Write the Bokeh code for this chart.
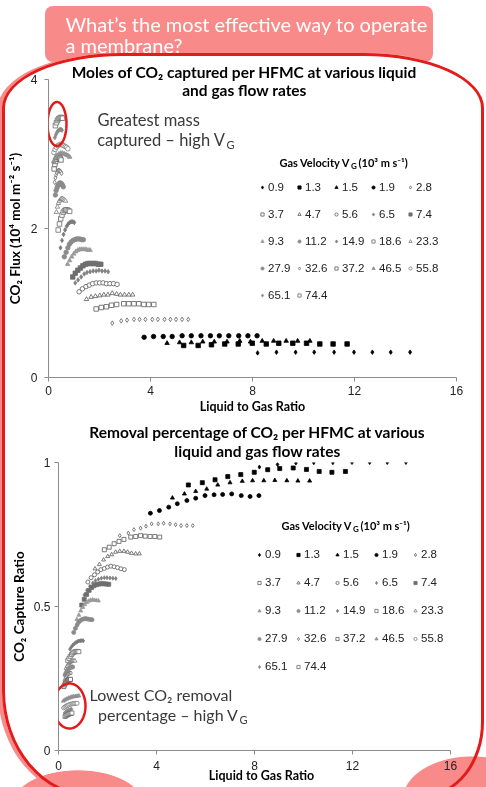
import numpy as np
from bokeh.plotting import figure
from bokeh.models import (Legend, LegendItem, Label, PolyAnnotation, FixedTicker,
                          GlobalInlineStyleSheet)
from bokeh.layouts import column, row
from bokeh.embed import file_html
from bokeh.resources import INLINE

# ---------------- data ----------------
GAS_VELOCITY = ["0.9", "1.3", "1.5", "1.9", "2.8", "3.7", "4.7", "5.6", "6.5", "7.4",
                "9.3", "11.2", "14.9", "18.6", "23.3", "27.9", "32.6", "37.2", "46.5",
                "55.8", "65.1", "74.4"]

LG_0_9 = [8.2, 8.94, 9.69, 10.42, 11.2, 11.98, 12.7, 13.42, 14.18]
FLUX_0_9 = [0.33, 0.34, 0.34, 0.34, 0.34, 0.34, 0.34, 0.34, 0.34]
CAPTURE_0_9 = [0.984, 0.993, 0.998, 0.999, 0.999, 1.0, 1.0, 1.0, 1.0]

LG_1_3 = [5.3, 5.87, 6.39, 6.91, 7.44, 7.99, 8.54, 9.03, 9.58, 10.12, 10.64, 11.16, 11.71]
FLUX_1_3 = [0.43, 0.43, 0.44, 0.45, 0.45, 0.46, 0.45, 0.46, 0.46, 0.46, 0.45, 0.45, 0.45]
CAPTURE_1_3 = [0.922, 0.93, 0.94, 0.951, 0.958, 0.966, 0.975, 0.979, 0.981, 0.976, 0.969, 0.966, 0.969]

LG_1_5 = [4.65, 5.14, 5.6, 6.05, 6.5, 7.0, 7.5, 7.92, 8.38, 8.83, 9.32, 9.77, 10.25]
FLUX_1_5 = [0.46, 0.47, 0.47, 0.48, 0.48, 0.48, 0.49, 0.48, 0.49, 0.49, 0.49, 0.49, 0.49]
CAPTURE_1_5 = [0.877, 0.891, 0.9, 0.908, 0.922, 0.93, 0.935, 0.937, 0.937, 0.938, 0.937, 0.936, 0.936]

LG_1_9 = [3.75, 4.12, 4.5, 4.85, 5.24, 5.6, 5.98, 6.35, 6.7, 7.07, 7.46, 7.82, 8.18]
FLUX_1_9 = [0.54, 0.55, 0.55, 0.55, 0.56, 0.56, 0.56, 0.56, 0.56, 0.56, 0.56, 0.56, 0.56]
CAPTURE_1_9 = [0.824, 0.833, 0.845, 0.857, 0.868, 0.876, 0.885, 0.888, 0.889, 0.891, 0.885, 0.882, 0.885]

LG_2_8 = [2.5, 2.85, 3.08, 3.35, 3.57, 3.8, 4.07, 4.29, 4.55, 4.78, 5.0, 5.24, 5.48]
FLUX_2_8 = [0.73, 0.76, 0.77, 0.78, 0.78, 0.78, 0.78, 0.78, 0.78, 0.78, 0.78, 0.78, 0.78]
CAPTURE_2_8 = [0.746, 0.755, 0.767, 0.772, 0.779, 0.787, 0.787, 0.789, 0.787, 0.784, 0.781, 0.781, 0.781]

LG_3_7 = [1.87, 2.07, 2.27, 2.47, 2.67, 2.95, 3.15, 3.35, 3.54, 3.74, 3.93, 4.13]
FLUX_3_7 = [0.92, 0.94, 0.95, 0.97, 0.98, 0.99, 0.99, 0.99, 0.99, 0.98, 0.98, 0.98]
CAPTURE_3_7 = [0.697, 0.706, 0.718, 0.726, 0.733, 0.741, 0.743, 0.746, 0.744, 0.743, 0.743, 0.741]

LG_4_7 = [1.49, 1.67, 1.84, 2.01, 2.17, 2.33, 2.5, 2.67, 2.82, 2.98, 3.15, 3.3]
FLUX_4_7 = [1.05, 1.08, 1.09, 1.1, 1.11, 1.11, 1.13, 1.12, 1.11, 1.11, 1.11, 1.11]
CAPTURE_4_7 = [0.631, 0.646, 0.662, 0.674, 0.68, 0.689, 0.692, 0.692, 0.689, 0.685, 0.683, 0.683]

LG_5_6 = [1.2, 1.33, 1.47, 1.6, 1.73, 1.87, 2.0, 2.14, 2.27, 2.41, 2.55, 2.69]
FLUX_5_6 = [1.15, 1.19, 1.22, 1.24, 1.26, 1.27, 1.27, 1.27, 1.26, 1.26, 1.26, 1.25]
CAPTURE_5_6 = [0.585, 0.6, 0.61, 0.62, 0.628, 0.632, 0.637, 0.64, 0.638, 0.635, 0.631, 0.628]

LG_6_5 = [1.05, 1.16, 1.28, 1.4, 1.51, 1.63, 1.75, 1.87, 1.98, 2.1, 2.22, 2.34]
FLUX_6_5 = [1.27, 1.31, 1.35, 1.39, 1.41, 1.42, 1.43, 1.43, 1.44, 1.43, 1.43, 1.42]
CAPTURE_6_5 = [0.54, 0.556, 0.57, 0.582, 0.59, 0.595, 0.598, 0.6, 0.6, 0.599, 0.598, 0.597]

LG_7_4 = [0.95, 1.05, 1.15, 1.25, 1.35, 1.45, 1.55, 1.65, 1.75, 1.85, 1.95, 2.05]
FLUX_7_4 = [1.35, 1.4, 1.44, 1.47, 1.5, 1.52, 1.53, 1.53, 1.53, 1.53, 1.52, 1.52]
CAPTURE_7_4 = [0.505, 0.525, 0.542, 0.556, 0.566, 0.572, 0.576, 0.578, 0.579, 0.579, 0.578, 0.577]

LG_9_3 = [0.75, 0.83, 0.91, 0.99, 1.07, 1.15, 1.23, 1.31, 1.39, 1.47, 1.55, 1.63]
FLUX_9_3 = [1.52, 1.57, 1.62, 1.66, 1.69, 1.71, 1.72, 1.72, 1.72, 1.72, 1.71, 1.71]
CAPTURE_9_3 = [0.455, 0.47, 0.485, 0.497, 0.507, 0.514, 0.519, 0.522, 0.523, 0.522, 0.521, 0.52]

LG_11_2 = [0.62, 0.69, 0.76, 0.82, 0.89, 0.96, 1.03, 1.1, 1.16, 1.23, 1.3, 1.37]
FLUX_11_2 = [1.62, 1.68, 1.74, 1.79, 1.82, 1.84, 1.85, 1.86, 1.86, 1.86, 1.85, 1.85]
CAPTURE_11_2 = [0.41, 0.424, 0.436, 0.445, 0.451, 0.455, 0.457, 0.458, 0.457, 0.456, 0.455, 0.454]

LG_14_9 = [0.47, 0.53, 0.59, 0.65, 0.71, 0.77, 0.83, 0.89, 0.95, 1.01]
FLUX_14_9 = [1.74, 1.84, 1.92, 1.98, 2.03, 2.06, 2.08, 2.09, 2.09, 2.08]
CAPTURE_14_9 = [0.352, 0.36, 0.366, 0.371, 0.375, 0.378, 0.38, 0.381, 0.382, 0.381]

LG_18_6 = [0.38, 0.43, 0.48, 0.53, 0.58, 0.63, 0.68, 0.73, 0.78, 0.83]
FLUX_18_6 = [1.98, 2.06, 2.13, 2.18, 2.22, 2.24, 2.25, 2.25, 2.24, 2.23]
CAPTURE_18_6 = [0.312, 0.32, 0.327, 0.333, 0.338, 0.341, 0.343, 0.344, 0.344, 0.343]

LG_23_3 = [0.31, 0.35, 0.39, 0.43, 0.47, 0.51, 0.55, 0.59, 0.63, 0.67]
FLUX_23_3 = [2.22, 2.29, 2.34, 2.37, 2.39, 2.4, 2.4, 2.39, 2.38, 2.37]
CAPTURE_23_3 = [0.285, 0.292, 0.298, 0.303, 0.306, 0.309, 0.311, 0.312, 0.312, 0.311]

LG_27_9 = [0.27, 0.3, 0.34, 0.37, 0.41, 0.44, 0.48, 0.51, 0.55, 0.58]
FLUX_27_9 = [2.45, 2.51, 2.55, 2.58, 2.6, 2.61, 2.61, 2.6, 2.58, 2.56]
CAPTURE_27_9 = [0.262, 0.268, 0.274, 0.279, 0.283, 0.286, 0.288, 0.289, 0.29, 0.29]

LG_32_6 = [0.24, 0.27, 0.3, 0.33, 0.36, 0.39, 0.42, 0.45, 0.48, 0.51]
FLUX_32_6 = [2.62, 2.68, 2.72, 2.75, 2.77, 2.78, 2.78, 2.77, 2.76, 2.74]
CAPTURE_32_6 = [0.242, 0.248, 0.254, 0.258, 0.262, 0.265, 0.267, 0.268, 0.269, 0.269]

LG_37_2 = [0.22, 0.25, 0.28, 0.31, 0.34, 0.37, 0.4, 0.43, 0.46, 0.49]
FLUX_37_2 = [2.8, 2.86, 2.9, 2.93, 2.95, 2.96, 2.96, 2.95, 2.94, 2.92]
CAPTURE_37_2 = [0.222, 0.228, 0.233, 0.237, 0.24, 0.243, 0.245, 0.246, 0.247, 0.247]

LG_46_5 = [0.2, 0.27, 0.34, 0.41, 0.48, 0.55, 0.62, 0.69, 0.76, 0.83]
FLUX_46_5 = [2.9, 2.95, 2.98, 3.0, 3.01, 3.01, 3.0, 2.99, 2.98, 2.96]
CAPTURE_46_5 = [0.172, 0.176, 0.179, 0.182, 0.184, 0.186, 0.187, 0.188, 0.189, 0.19]

LG_55_8 = [0.21, 0.26, 0.31, 0.36, 0.41, 0.46, 0.51, 0.56, 0.61, 0.66, 0.71, 0.76]
FLUX_55_8 = [3.02, 3.06, 3.09, 3.11, 3.12, 3.13, 3.13, 3.12, 3.11, 3.1, 3.09, 3.07]
CAPTURE_55_8 = [0.148, 0.151, 0.154, 0.156, 0.158, 0.16, 0.161, 0.162, 0.163, 0.163, 0.164, 0.164]

LG_65_1 = [0.25, 0.29, 0.33, 0.37, 0.41, 0.45, 0.49, 0.53]
FLUX_65_1 = [3.22, 3.26, 3.29, 3.31, 3.32, 3.33, 3.33, 3.32]
CAPTURE_65_1 = [0.13, 0.133, 0.136, 0.138, 0.14, 0.141, 0.142, 0.143]

LG_74_4 = [0.27, 0.31, 0.35, 0.39, 0.43, 0.47, 0.51, 0.55]
FLUX_74_4 = [3.38, 3.42, 3.45, 3.47, 3.48, 3.49, 3.49, 3.48]
CAPTURE_74_4 = [0.118, 0.121, 0.123, 0.125, 0.127, 0.128, 0.129, 0.13]

X_TICKS = [0, 4, 8, 12, 16]
FLUX_TICKS = [0, 2, 4]
CAPTURE_TICKS = [0, 0.5, 1]

# table built from the named lists
SERIES = [
    (LG_0_9, FLUX_0_9, CAPTURE_0_9), (LG_1_3, FLUX_1_3, CAPTURE_1_3),
    (LG_1_5, FLUX_1_5, CAPTURE_1_5), (LG_1_9, FLUX_1_9, CAPTURE_1_9),
    (LG_2_8, FLUX_2_8, CAPTURE_2_8), (LG_3_7, FLUX_3_7, CAPTURE_3_7),
    (LG_4_7, FLUX_4_7, CAPTURE_4_7), (LG_5_6, FLUX_5_6, CAPTURE_5_6),
    (LG_6_5, FLUX_6_5, CAPTURE_6_5), (LG_7_4, FLUX_7_4, CAPTURE_7_4),
    (LG_9_3, FLUX_9_3, CAPTURE_9_3), (LG_11_2, FLUX_11_2, CAPTURE_11_2),
    (LG_14_9, FLUX_14_9, CAPTURE_14_9), (LG_18_6, FLUX_18_6, CAPTURE_18_6),
    (LG_23_3, FLUX_23_3, CAPTURE_23_3), (LG_27_9, FLUX_27_9, CAPTURE_27_9),
    (LG_32_6, FLUX_32_6, CAPTURE_32_6), (LG_37_2, FLUX_37_2, CAPTURE_37_2),
    (LG_46_5, FLUX_46_5, CAPTURE_46_5), (LG_55_8, FLUX_55_8, CAPTURE_55_8),
    (LG_65_1, FLUX_65_1, CAPTURE_65_1), (LG_74_4, FLUX_74_4, CAPTURE_74_4),
]

# ---------------- styles ----------------
MARKERS = ["diamond", "square", "triangle", "circle", "diamond", "square", "triangle", "circle",
           "diamond", "square", "triangle", "circle", "diamond", "square", "triangle", "circle",
           "diamond", "square", "triangle", "circle", "diamond", "square"]
FILLS = ["#000000", "#000000", "#000000", "#000000", "#ffffff", "#ffffff", "#ffffff", "#ffffff",
         "#808080", "#6e6e6e", "#9a9a9a", "#8a8a8a", "#7a7a7a", "#ffffff", "#ffffff", "#8c8c8c",
         "#ffffff", "#ffffff", "#9a9a9a", "#ffffff", "#8a8a8a", "#ffffff"]
LINES = ["#000000", "#000000", "#000000", "#000000", "#5a5a5a", "#5a5a5a", "#5a5a5a", "#5a5a5a",
         "#808080", "#6e6e6e", "#9a9a9a", "#8a8a8a", "#7a7a7a", "#6a6a6a", "#7a7a7a", "#8c8c8c",
         "#6a6a6a", "#5a5a5a", "#8a8a8a", "#7a7a7a", "#8a8a8a", "#6a6a6a"]

W = 486
H1, H2 = 418, 369
TOP1, TOP2 = 0, 418          # page y of each figure's top
RED = "#e41b1b"
PINK = "#f98a8a"
AX = "#8c8c8c"

# page decoration (pink header box, red rounded frame, pink corner blobs), drawn by CSS
RADII = "120px 120px 60px 90px / 55px 55px 75px 106px"
PAGE_CSS = f"""
html::before {{ content: ""; position: fixed; z-index: -1; left: 45px; top: 6px;
  width: 388px; height: 56px; border-radius: 8px; background: {PINK}; }}
body::before {{ content: ""; position: fixed; z-index: -1; left: 2px; top: 53px;
  width: 482px; height: 744px; box-sizing: border-box; border-radius: {RADII};
  background: #ffffff; box-shadow: -4px 0 0 0 {PINK}; }}
body::after {{ content: ""; position: fixed; z-index: -1; left: 0px; top: 0px;
  width: 486px; height: 787px;
  background: radial-gradient(66px 35px at 78px 805px, {PINK} 98%, rgba(0,0,0,0) 100%),
              radial-gradient(70px 44px at 472px 800px, {PINK} 98%, rgba(0,0,0,0) 100%); }}
html::after {{ content: ""; position: fixed; z-index: -1; left: 2px; top: 53px;
  width: 482px; height: 744px; box-sizing: border-box; border: 3px solid {RED};
  border-radius: {RADII}; }}
"""


def ring(cx, cy, rx, ry, n=60):
    t = np.linspace(0, 2 * np.pi, n)
    return list(cx + rx * np.cos(t)), list(cy + ry * np.sin(t))


def add_ring(p, shape, top):
    p.add_layout(PolyAnnotation(xs=shape[0], ys=[y - top for y in shape[1]],
                                xs_units="canvas", ys_units="canvas",
                                fill_alpha=0, line_color=RED, line_alpha=1.0, line_width=2.5))


def text(p, x, y, top, s, size, style="normal", color="#000000", align="left",
         font="Lato", place="center"):
    p.add_layout(Label(x=x, y=y - top, x_units="canvas", y_units="canvas", text=s,
                       text_font=font, text_font_size=size, text_font_style=style,
                       text_color=color, text_align=align, text_baseline="middle"), place)


def make_fig(height, x_end, y_end, yticks, borders, xlab, ylab, xstd, xlstd, ystd, ylstd):
    left, right, top, bottom = borders
    p = figure(width=W, height=height, x_range=(0, x_end), y_range=(0, y_end),
               output_backend="svg", toolbar_location=None,
               min_border_left=left, min_border_right=right,
               min_border_top=top, min_border_bottom=bottom)
    p.outline_line_color = None
    p.xgrid.visible = False
    p.ygrid.visible = False
    p.background_fill_color = None
    p.border_fill_color = None
    p.xaxis.ticker = FixedTicker(ticks=X_TICKS)
    p.yaxis.ticker = FixedTicker(ticks=yticks)
    p.xaxis.bounds = (0, 16)
    p.yaxis.bounds = (0, yticks[-1])
    for ax in (p.xaxis[0], p.yaxis[0]):
        ax.axis_line_color = AX
        ax.major_tick_line_color = AX
        ax.major_tick_in = 0
        ax.major_tick_out = 4
        ax.minor_tick_in = 0
        ax.minor_tick_out = 0
        ax.major_label_text_font = "Liberation Sans"
        ax.major_label_text_font_size = "12px"
        ax.major_label_text_color = "#222222"
        ax.axis_label_text_font = "Lato"
        ax.axis_label_text_font_style = "bold"
        ax.axis_label_text_color = "#000000"
    p.xaxis.axis_label = xlab
    p.yaxis.axis_label = ylab
    p.xaxis.axis_label_text_font_size = "12.5px"
    p.yaxis.axis_label_text_font_size = "13.5px"
    p.xaxis.major_label_standoff = xstd
    p.xaxis.axis_label_standoff = xlstd
    p.yaxis.major_label_standoff = ystd
    p.yaxis.axis_label_standoff = ylstd
    return p


def add_series(p, col, size, legend_loc, cell_h, label_w):
    items = []
    for i, s in enumerate(SERIES):
        r = p.scatter(x=s[0], y=s[col], marker=MARKERS[i], size=size,
                      fill_color=FILLS[i], line_color=LINES[i], line_width=0.8)
        items.append(LegendItem(label=GAS_VELOCITY[i], renderers=[r]))
    lg = Legend(items=items, location=legend_loc, orientation="horizontal", ncols=5,
                glyph_width=8, glyph_height=cell_h, label_height=cell_h, label_width=label_w,
                label_standoff=2, spacing=3, padding=0, margin=0,
                border_line_alpha=0, background_fill_alpha=0,
                label_text_font="Liberation Sans", label_text_font_size="11.5px",
                label_text_color="#222222")
    p.add_layout(lg)


def legend_title(p, x_v, y, top):
    text(p, x_v, y, top, "Gas Velocity V", "11px", "bold", align="right")
    text(p, x_v + 0.5, y + 3, top, "G", "8px", "bold")
    text(p, x_v + 8, y, top, "(10³ m s⁻¹)", "11px", "bold")


# ---------------- top chart ----------------
p1 = make_fig(H1, 16 * (456 - 48) / 408, 4, FLUX_TICKS, (48, 30, 79, 41), "Liquid to Gas Ratio",
              "CO₂ Flux (10⁴ mol m⁻² s⁻¹)", 4, 1, 7, 5)
p1.stylesheets = [GlobalInlineStyleSheet(css=PAGE_CSS)]
add_series(p1, 1, 4.5, (210, 70), 24, 24)
add_ring(p1, ring(56.5, 123.5, 9.5, 22), TOP1)
text(p1, 65, 23, TOP1, "What’s the most effective  way to operate", "20px", color="white", place="above")
text(p1, 65, 44, TOP1, "a membrane?", "20px", color="white", place="above")
text(p1, 244, 71, TOP1, "Moles of CO₂ captured per HFMC at various liquid", "15.5px", "bold",
     align="center", place="above")
text(p1, 244, 89, TOP1, "and gas flow rates", "15.5px", "bold", align="center")
text(p1, 97, 119, TOP1, "Greatest mass", "16.5px", color="#3a3a3a")
text(p1, 225, 139, TOP1, "captured – high V", "16.5px", color="#3a3a3a", align="right")
text(p1, 226, 144, TOP1, "G", "11px", color="#3a3a3a")
legend_title(p1, 350, 162, TOP1)

# ---------------- bottom chart ----------------
p2 = make_fig(H2, 16 * (464 - 58) / 392, 1, CAPTURE_TICKS, (58, 22, 44, 37), "Liquid to Gas Ratio",
              "CO₂ Capture Ratio", 6, -5, 4, 4)
p2.yaxis.major_label_overrides = {0: "0", 0.5: "0.5", 1: "1"}
add_series(p2, 2, 4, (197, 71.5), 25, 26)
add_ring(p2, ring(69, 705.5, 16, 22.5), TOP2)
text(p2, 257, 431, TOP2, "Removal percentage of CO₂ per HFMC at various", "15.5px", "bold",
     align="center", place="above")
text(p2, 257, 450, TOP2, "liquid and gas flow rates", "15.5px", "bold", align="center", place="above")
text(p2, 89, 694, TOP2, "Lowest CO₂ removal", "16px", color="#3a3a3a")
text(p2, 238, 714, TOP2, "percentage – high V", "16px", color="#3a3a3a", align="right")
text(p2, 239, 719, TOP2, "G", "11px", color="#3a3a3a")
legend_title(p2, 352, 525, TOP2)

layout = column(row(p1), row(p2), spacing=0)
open("out.html", "w").write(file_html(layout, INLINE))
